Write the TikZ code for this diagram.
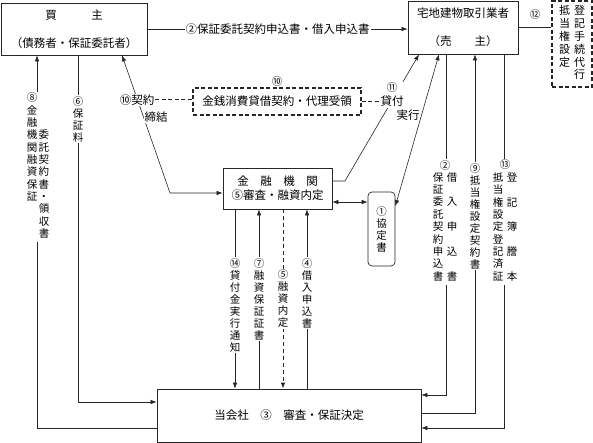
\documentclass[tikz,border=0pt]{standalone}
\usepackage{fontspec}
\setmainfont{Noto Sans CJK JP}
\usetikzlibrary{arrows.meta}
\begin{document}
\begin{tikzpicture}[x=1pt,y=-1pt,
  font=\fontsize{11.5}{14}\selectfont,
  ln/.style={line width=0.6pt, draw=black!85},
  arr/.style={ln, -{Latex[length=6pt,width=4.5pt]}},
  darr/.style={ln, {Latex[length=6pt,width=4.5pt]}-{Latex[length=6pt,width=4.5pt]}},
  dln/.style={line width=1pt, draw=black!85, dash pattern=on 4pt off 2.5pt},
  box/.style={draw=black!85, line width=0.7pt, align=center, inner sep=0pt},
  dbox/.style={draw=black!85, line width=1.1pt, dash pattern=on 4pt off 2.5pt, align=center, inner sep=0pt},
  vl/.style={fill=white, inner sep=1pt, align=center, font=\fontsize{10.5}{12}\selectfont},
  hl/.style={fill=white, inner sep=1pt},
  num/.style={inner sep=1pt, font=\fontsize{10.5}{12}\selectfont},
]
\useasboundingbox (0,0) rectangle (593,443);

% boxes
\node[box, minimum width=146pt, minimum height=52pt] (buyer) at (74,29) {買　　　主\\[14pt]（債務者・保証委託者）};
\node[box, minimum width=110pt, minimum height=53pt] (seller) at (463,27.5) {宅地建物取引業者\\[14pt]（売　　主）};
\node[dbox, minimum width=40pt, minimum height=86pt, font=\fontsize{11}{12}\selectfont] (reg) at (572,44)
  {\begin{tabular}{@{}c@{\hspace{4pt}}c@{}}抵&登\\当&記\\権&手\\設&続\\定&代\\&行\end{tabular}};
\node[dbox, minimum width=168pt, minimum height=27pt] (loan) at (277,101.5) {金銭消費貸借契約・代理受領};
\node[box, minimum width=109pt, minimum height=41pt] (bank) at (277.5,188.5) {金　融　機　関\\⑤審査・融資内定};
\node[box, rounded corners=4pt, minimum width=27pt, minimum height=74pt, font=\fontsize{10.5}{12}\selectfont] (kyo) at (381.5,229) {①\\協\\定\\書};
\node[box, minimum width=264pt, minimum height=53pt] (co) at (289,415.5) {当会社　③　審査・保証決定};

% coordinates
\coordinate (x8) at (37,0);
\coordinate (x6) at (78,0);
\coordinate (x10) at (122,0);
\coordinate (k10) at (170,193);
\coordinate (x14) at (235,0);
\coordinate (x7) at (259,0);
\coordinate (x5) at (283,0);
\coordinate (x4) at (307,0);
\coordinate (k11) at (345,181);
\coordinate (x11) at (419,0);
\coordinate (x1) at (439,0);
\coordinate (x2) at (446,0);
\coordinate (x9) at (475,0);
\coordinate (x13) at (504,0);
\coordinate (y1) at (0,206);
\coordinate (y12) at (0,202);
\coordinate (y6) at (0,402);
\coordinate (y8) at (0,428);
\coordinate (y2) at (0,395);
\coordinate (y9) at (0,413);
\coordinate (y13) at (0,428);

% connectors
\draw[arr] (buyer.east) -- (buyer.east -| seller.west)
  node[midway, hl] (t2) {②保証委託契約申込書・借入申込書};
\draw[ln] (seller.east) -- (seller.east -| reg.west);
\node[num] (n12) at (535,15) {⑫};

\draw[arr] (x6 |- buyer.south) |- (co.west |- y6);
\draw[arr] (co.west |- y8) -| (x8 |- buyer.south);
\draw[darr] (x10 |- buyer.south) -- (k10) -- (k10 -| bank.west);
\draw[arr] (k11 -| bank.east) -- (k11) -- (x11 |- seller.south);
\draw[darr] (kyo.east |- y1) -- (x1 |- seller.south);
\draw[darr] (bank.east |- y12) -- (kyo.west |- y12);
\draw[arr] (x14 |- bank.south) -- (x14 |- co.north);
\draw[arr] (x7 |- co.north) -- (x7 |- bank.south);
\draw[ln, line width=0.9pt, dash pattern=on 4pt off 3pt, -{Latex[length=6pt,width=4.5pt]}] (x5 |- bank.south) -- (x5 |- co.north);
\draw[arr] (x4 |- co.north) -- (x4 |- bank.south);
\draw[arr] (x2 |- seller.south) |- (co.east |- y2);
\draw[arr] (co.east |- y9) -| (x9 |- seller.south);
\draw[arr] (x13 |- seller.south) |- (co.east |- y13);

% labels on ⑩ / ⑪
\node[hl] (t10a) at (137,100) {⑩契約};
\node[hl] (t10b) at (156,117) {締結};
\draw[dln] (t10a.east) -- (t10a.east -| loan.west);
\node[num, anchor=south] (n10) at (loan.north) {⑩};
\node[hl, align=center] (t11) at (392,95) {{\fontsize{10.5}{12}\selectfont ⑪}\\貸付};
\node[inner sep=0.5pt] (t11b) at (408,115) {実行};
\draw[dln] (loan.east) -- (loan.east -| t11.west);

% vertical labels
\node[vl] (l8) at (38,167) {\begin{tabular}{@{}c@{\hspace{1.5pt}}c@{}}
⑧&\\金&\\融&\\機&委\\関&託\\融&契\\資&約\\保&書\\証&・\\&領\\&収\\&書\end{tabular}};
\node[vl] (l6) at (78,119) {⑥\\保\\証\\料};
\node[vl] (l14) at (235,305) {⑭\\貸\\付\\金\\実\\行\\通\\知};
\node[vl] (l7) at (259,299) {⑦\\融\\資\\保\\証\\証\\書};
\node[vl] (l5) at (283,299) {⑤\\融\\資\\内\\定};
\node[vl] (l4) at (307,293) {④\\借\\入\\申\\込\\書};
\node[vl] (l2) at (445,222) {\begin{tabular}{@{}c@{\hspace{3.5pt}}c@{}}
\multicolumn{2}{c}{②}\\保&借\\証&\\委&入\\託&\\契&申\\約&\\申&込\\込&\\書&書\end{tabular}};
\node[vl] (l9) at (475,216) {⑨\\抵\\当\\権\\設\\定\\契\\約\\書};
\node[vl] (l13) at (505,222) {\begin{tabular}{@{}c@{\hspace{3.5pt}}c@{}}
\multicolumn{2}{c}{⑬}\\抵&登\\当&\\権&記\\設&\\定&簿\\登&\\記&謄\\済&\\証&本\end{tabular}};
\end{tikzpicture}
\end{document}
